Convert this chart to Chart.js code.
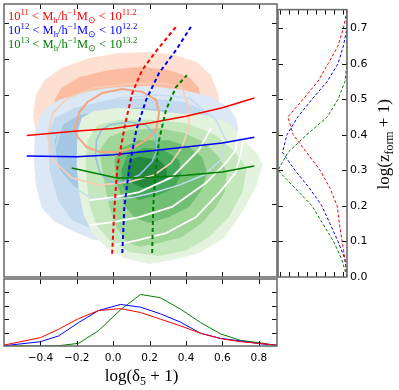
<!DOCTYPE html>
<html>
<head>
<meta charset="utf-8">
<script src="https://cdn.jsdelivr.net/npm/chart.js@4.4.1/dist/chart.umd.min.js"></script>
<style>
  html, body { margin: 0; padding: 0; background: #fff; }
  #wrap { position: relative; width: 399px; height: 390px; }
  canvas { position: absolute; left: 0; top: 0; }
</style>
</head>
<body>
<div id="wrap">
  <canvas id="mainChart" width="399" height="390"></canvas>
  <canvas id="sideChart" width="399" height="390"></canvas>
  <canvas id="bottomChart" width="399" height="390"></canvas>
</div>
<script>
// ================= DATA =================
const deltaTicks = [-0.4, -0.2, 0.0, 0.2, 0.4, 0.6, 0.8];
const zTicks = [0.0, 0.1, 0.2, 0.3, 0.4, 0.5, 0.6, 0.7];
const sideTicks = [0.5, 1.5, 2.5, 3.5, 4.5, 5.5, 6.5, 7.5];
const bottomTicks = [1, 2, 3, 4];

const massLow = ["11", "12", "13"];
const massHigh = ["11.2", "12.2", "13.2"];

// median log(z+1) vs log(delta+1) (solid)
const medDelta = [-0.475, -0.2, 0.0, 0.2, 0.4, 0.6, 0.775];
const medZRed = [0.39, 0.402, 0.409, 0.424, 0.443, 0.466, 0.493];
const medZBlue = [0.333, 0.331, 0.337, 0.347, 0.358, 0.369, 0.385];
const medDeltaGreen = [-0.228, 0.02, 0.2, 0.4, 0.6, 0.775];
const medZGreen = [0.3, 0.273, 0.274, 0.28, 0.289, 0.306];

// median log(delta+1) vs log(z+1) (dashed)
const dashZRed = [0.064, 0.193, 0.303, 0.42, 0.507, 0.57, 0.625, 0.689];
const dashDeltaRed = [-0.006, 0.007, 0.023, 0.065, 0.105, 0.159, 0.24, 0.345];
const dashZBlue = [0.066, 0.193, 0.303, 0.405, 0.488, 0.562, 0.625, 0.689];
const dashDeltaBlue = [0.05, 0.061, 0.089, 0.127, 0.181, 0.252, 0.345, 0.427];
const dashZGreen = [0.066, 0.193, 0.275, 0.377, 0.46, 0.523, 0.556];
const dashDeltaGreen = [0.214, 0.22, 0.23, 0.252, 0.29, 0.345, 0.405];

// bottom marginal
const histDelta = [-0.6, -0.4, -0.3, -0.19, -0.08, 0.04, 0.15, 0.26, 0.37, 0.48, 0.59, 0.7, 0.8, 0.9];
const histRed = [0.07, 0.62, 1.25, 2.05, 2.65, 2.79, 2.5, 2.0, 1.5, 0.95, 0.55, 0.32, 0.2, 0.05];
const histBlue = [0.02, 0.32, 0.75, 1.75, 2.65, 3.1, 2.9, 2.4, 1.78, 0.95, 0.57, 0.37, 0.18, 0.05];
const histGreen = [0, 0, 0.02, 0.2, 1.15, 2.7, 3.85, 3.6, 2.75, 1.75, 0.9, 0.42, 0.25, 0.05];

// side marginal
const zGrid = [0, 0.05, 0.1, 0.15, 0.2, 0.25, 0.3, 0.35, 0.4, 0.45, 0.5, 0.55, 0.6, 0.65, 0.7, 0.75];
const zDensRed = [0, 0.23, 0.54, 0.85, 1.1, 1.9, 3.0, 4.5, 6.0, 6.6, 4.9, 3.25, 2.1, 1.0, 0.4, 0];
const zDensBlue = [0, 0.23, 1.0, 1.9, 2.8, 4.2, 5.8, 7.2, 6.7, 5.5, 3.9, 2.2, 1.0, 0.4, 0, 0];
const zDensGreen = [0, 0.6, 1.5, 2.7, 3.9, 5.8, 7.7, 6.6, 4.5, 2.2, 1.0, 0.23, 0, 0, 0, 0];

// density contours, [log(delta+1), log(z+1)]
const redOuter = [[-0.44,0.446],[-0.425,0.501],[-0.376,0.543],[-0.283,0.576],[-0.13,0.603],[0.034,0.617],[0.198,0.62],[0.334,0.612],[0.46,0.592],[0.537,0.556],[0.58,0.501],[0.58,0.433],[0.537,0.364],[0.444,0.309],[0.252,0.267],[0.034,0.253],[-0.185,0.273],[-0.349,0.322],[-0.42,0.377]];
const redMid = [[-0.321,0.488],[-0.283,0.521],[-0.185,0.551],[-0.021,0.57],[0.143,0.579],[0.307,0.57],[0.416,0.551],[0.471,0.521],[0.487,0.474],[0.444,0.405],[0.334,0.35],[0.143,0.322],[-0.075,0.328],[-0.239,0.364],[-0.31,0.419]];
const blueOuter = [[-0.431,0.397],[-0.403,0.441],[-0.365,0.466],[-0.294,0.488],[-0.185,0.507],[-0.021,0.521],[0.198,0.526],[0.389,0.515],[0.537,0.496],[0.635,0.468],[0.679,0.433],[0.69,0.391],[0.662,0.322],[0.58,0.24],[0.444,0.171],[0.252,0.116],[0.034,0.096],[-0.103,0.102],[-0.212,0.124],[-0.321,0.152],[-0.392,0.19],[-0.425,0.253],[-0.436,0.322]];
const blueMid = [[-0.36,0.391],[-0.321,0.438],[-0.212,0.466],[-0.021,0.488],[0.198,0.493],[0.389,0.482],[0.498,0.46],[0.58,0.419],[0.608,0.364],[0.553,0.295],[0.444,0.226],[0.252,0.171],[0.034,0.135],[-0.103,0.129],[-0.228,0.157],[-0.305,0.212],[-0.349,0.295]];
const blueInner = [[-0.321,0.377],[-0.283,0.419],[-0.185,0.446],[-0.021,0.46],[0.143,0.466],[0.28,0.46],[0.362,0.438],[0.389,0.391],[0.334,0.322],[0.198,0.267],[0.034,0.226],[-0.103,0.226],[-0.212,0.248],[-0.294,0.295],[-0.321,0.336]];
const greenL1 = [[-0.196,0.397],[-0.174,0.438],[-0.103,0.457],[0.034,0.466],[0.198,0.46],[0.334,0.452],[0.509,0.446],[0.635,0.424],[0.717,0.377],[0.788,0.342],[0.821,0.309],[0.788,0.253],[0.717,0.185],[0.608,0.107],[0.471,0.066],[0.323,0.047],[0.198,0.036],[0.061,0.052],[-0.037,0.08],[-0.114,0.121],[-0.163,0.171],[-0.19,0.24],[-0.201,0.309]];
const greenL2 = [[-0.141,0.377],[-0.086,0.419],[0.034,0.433],[0.198,0.433],[0.4,0.424],[0.564,0.391],[0.673,0.342],[0.733,0.3],[0.711,0.234],[0.635,0.165],[0.526,0.11],[0.4,0.074],[0.252,0.058],[0.089,0.069],[-0.021,0.102],[-0.092,0.143],[-0.13,0.198],[-0.146,0.267],[-0.152,0.322]];
const greenL3 = [[-0.075,0.35],[-0.021,0.386],[0.089,0.405],[0.252,0.41],[0.389,0.397],[0.498,0.372],[0.58,0.331],[0.624,0.289],[0.613,0.234],[0.564,0.193],[0.487,0.149],[0.378,0.11],[0.252,0.094],[0.143,0.083],[0.078,0.096],[0.017,0.138],[-0.021,0.193],[-0.048,0.259],[-0.064,0.309]];
const greenL4 = [[0.007,0.322],[0.045,0.355],[0.143,0.377],[0.307,0.377],[0.416,0.358],[0.487,0.331],[0.515,0.289],[0.487,0.24],[0.416,0.193],[0.307,0.165],[0.198,0.149],[0.116,0.163],[0.061,0.198],[0.023,0.253]];
const greenL5 = [[0.045,0.295],[0.078,0.336],[0.17,0.355],[0.28,0.35],[0.362,0.322],[0.373,0.281],[0.334,0.245],[0.252,0.226],[0.143,0.212],[0.078,0.226],[0.05,0.259]];
const greenL6 = [[0.089,0.322],[0.143,0.331],[0.252,0.322],[0.291,0.303],[0.296,0.275],[0.252,0.256],[0.16,0.245],[0.105,0.259],[0.078,0.287]];

// contour lines
const blueBigLoop = [[-0.321,0.35],[-0.283,0.419],[-0.157,0.466],[0.034,0.493],[0.252,0.501],[0.416,0.493],[0.564,0.433],[0.619,0.377],[0.591,0.322],[0.498,0.281],[0.362,0.253],[0.236,0.234],[0.116,0.22],[-0.021,0.212],[-0.13,0.22],[-0.239,0.253],[-0.305,0.3]];
const peachLoop = [[-0.332,0.322],[-0.36,0.391],[-0.332,0.452],[-0.25,0.493],[-0.103,0.521],[0.089,0.532],[0.28,0.534],[0.378,0.521],[0.416,0.468],[0.416,0.413],[0.378,0.358],[0.318,0.314],[0.225,0.281],[0.089,0.262],[-0.075,0.253],[-0.228,0.273]];
const salmonInner = [[-0.201,0.424],[-0.185,0.455],[-0.141,0.482],[-0.059,0.507],[0.05,0.518],[0.16,0.51],[0.236,0.488],[0.252,0.452],[0.236,0.405],[0.181,0.377],[0.105,0.355],[0.017,0.344],[-0.075,0.344],[-0.146,0.358],[-0.196,0.386],[-0.212,0.413]];
const blueInnerLine = [[-0.021,0.419],[0.089,0.427],[0.181,0.419],[0.236,0.386],[0.241,0.35],[0.214,0.317],[0.143,0.281],[0.05,0.262],[-0.021,0.262],[-0.075,0.289],[-0.097,0.331],[-0.092,0.377],[-0.064,0.405]];
const whiteArc1 = [[-0.13,0.212],[0.007,0.22],[0.143,0.234],[0.323,0.275],[0.471,0.35],[0.537,0.41]];
const whiteArc2 = [[-0.13,0.143],[0.007,0.152],[0.143,0.165],[0.323,0.193],[0.509,0.259],[0.619,0.314],[0.673,0.35],[0.69,0.405]];
const whiteArc3 = [[0.007,0.088],[0.143,0.102],[0.291,0.121],[0.455,0.165],[0.58,0.231],[0.673,0.287],[0.706,0.35],[0.717,0.391]];

// ================= STYLE =================
const RED = "#ff0000", BLUE = "#0000ff", GREEN = "#008000";
const SERIF = "'Liberation Serif', serif";
Chart.defaults.font.family = "'DejaVu Sans', sans-serif";

// ================= HELPERS =================
function pts(pairs) { return pairs.map(p => ({ x: p[0], y: p[1] })); }
function zip(xs, ys) { return xs.map((x, i) => ({ x: x, y: ys[i] })); }

function fillShape(pairs, color) {
  return { data: pts(pairs), showLine: true, fill: "shape", backgroundColor: color,
           borderColor: "rgba(0,0,0,0)", borderWidth: 0.5, pointRadius: 0 };
}
function loopLine(pairs, color, width) {
  const d = pts(pairs);
  d.push(d[0]);
  return { data: d, showLine: true, fill: false, borderColor: color, borderWidth: width, pointRadius: 0 };
}
function openLine(data, color, width, dash) {
  return { data: data, showLine: true, fill: false, borderColor: color, borderWidth: width,
           borderDash: dash || [], pointRadius: 0 };
}
function stack(layers) {
  // first layer painted first (bottom)
  layers.forEach((l, i) => { l.order = layers.length - i; });
  return layers;
}

function drawParts(ctx, parts, x, y, size) {
  parts.forEach(p => {
    const small = p.mode === "sup" || p.mode === "sub";
    ctx.font = (small ? size * 0.7 : size) + "px " + SERIF;
    let dy = 0;
    if (p.mode === "sup") dy = -size * 0.4;
    if (p.mode === "sub") dy = size * 0.22;
    ctx.fillText(p.text, x, y + dy);
    x += ctx.measureText(p.text).width;
  });
  return x;
}
function partsWidth(ctx, parts, size) {
  let w = 0;
  parts.forEach(p => {
    const small = p.mode === "sup" || p.mode === "sub";
    ctx.font = (small ? size * 0.7 : size) + "px " + SERIF;
    w += ctx.measureText(p.text).width;
  });
  return w;
}
function massParts(lo, hi) {
  return [
    { text: "10" }, { text: lo, mode: "sup" },
    { text: " < M" }, { text: "h", mode: "sub" },
    { text: "/h" }, { text: "\u22121", mode: "sup" },
    { text: "M" }, { text: "\u2299", mode: "sub" },
    { text: " < 10" }, { text: hi, mode: "sup" }
  ];
}
function fmtTick(v) {
  const s = Math.abs(v).toFixed(1);
  return v < -1e-9 ? "\u2212" + s : s;
}

// inward ticks + frame
function framePlugin(cfg) {
  return {
    id: "frame",
    afterDatasetsDraw(chart) {
      const { ctx, chartArea: a, scales } = chart;
      const L = 5;
      ctx.save();
      ctx.strokeStyle = "#111";
      ctx.lineWidth = 1;
      ctx.beginPath();
      cfg.xTicks.forEach(v => {
        const p = Math.round(scales.x.getPixelForValue(v)) + 0.5;
        ctx.moveTo(p, a.top); ctx.lineTo(p, a.top + L);
        ctx.moveTo(p, a.bottom); ctx.lineTo(p, a.bottom - L);
      });
      cfg.yTicks.forEach(v => {
        const p = Math.round(scales.y.getPixelForValue(v)) + 0.5;
        ctx.moveTo(a.left, p); ctx.lineTo(a.left + L, p);
        ctx.moveTo(a.right, p); ctx.lineTo(a.right - L, p);
      });
      ctx.stroke();
      ctx.strokeStyle = "#666";
      ctx.lineWidth = 1.5;
      ctx.strokeRect(a.left, a.top, a.right - a.left, a.bottom - a.top);
      ctx.restore();
    }
  };
}

const baseOpts = {
  responsive: false,
  animation: false,
  devicePixelRatio: 1,
  events: [],
  plugins: { legend: { display: false }, tooltip: { enabled: false } },
  elements: { point: { radius: 0 }, line: { tension: 0 } }
};

// ================= MAIN PANEL =================
const mainLayers = stack([
  fillShape(redOuter, "#fde0d2"),
  fillShape(redMid, "#fbbca2"),
  fillShape(blueOuter, "#dce8f5"),
  fillShape(blueMid, "#c3d9ee"),
  fillShape(blueInner, "#a4c8e3"),
  fillShape(greenL1, "#e3f3de"),
  fillShape(greenL2, "#c5e7bd"),
  fillShape(greenL3, "#9fd597"),
  fillShape(greenL4, "#70bf73"),
  fillShape(greenL5, "#45a95b"),
  fillShape(greenL6, "#24883f"),
  loopLine(blueBigLoop, "#c4dcf0", 1.5),
  loopLine(peachLoop, "#fbcdb5", 1.6),
  loopLine(salmonInner, "#f4a582", 2),
  loopLine(blueInnerLine, "#92c0e0", 1.6),
  openLine(pts(whiteArc1), "#ffffff", 1.8),
  openLine(pts(whiteArc2), "#ffffff", 1.8),
  openLine(pts(whiteArc3), "#ffffff", 1.8),
  openLine(zip(medDelta, medZRed), RED, 1.5),
  openLine(zip(medDelta, medZBlue), BLUE, 1.5),
  openLine(zip(medDeltaGreen, medZGreen), GREEN, 1.5),
  openLine(zip(dashDeltaRed, dashZRed), RED, 2, [4, 3]),
  openLine(zip(dashDeltaBlue, dashZBlue), BLUE, 2, [4, 3]),
  openLine(zip(dashDeltaGreen, dashZGreen), GREEN, 2, [4, 3])
]);

const legendPlugin = {
  id: "massLegend",
  afterDraw(chart) {
    const ctx = chart.ctx;
    const colors = [RED, BLUE, GREEN];
    ctx.save();
    ctx.textBaseline = "alphabetic";
    massLow.forEach((lo, i) => {
      ctx.fillStyle = colors[i];
      drawParts(ctx, massParts(lo, massHigh[i]), 8, 20 + i * 14, 12.5);
    });
    ctx.restore();
  }
};

new Chart(document.getElementById("mainChart"), {
  type: "scatter",
  data: { datasets: mainLayers },
  options: {
    ...baseOpts,
    layout: { padding: { left: 4, top: 4, right: 122, bottom: 113 }, autoPadding: false },
    scales: {
      x: { display: false, min: -0.6, max: 0.9 },
      y: { display: false, min: 0, max: 0.752 }
    }
  },
  plugins: [framePlugin({ xTicks: deltaTicks, yTicks: zTicks.slice(1) }), legendPlugin]
});

// ================= SIDE PANEL =================
const yTitlePlugin = {
  id: "yTitle",
  afterDraw(chart) {
    const ctx = chart.ctx;
    const a = chart.chartArea;
    const parts = [{ text: "log(z" }, { text: "form", mode: "sub" }, { text: " + 1)" }];
    const size = 17;
    const w = partsWidth(ctx, parts, size);
    ctx.save();
    ctx.translate(389, (a.top + a.bottom) / 2 + 1);
    ctx.rotate(-Math.PI / 2);
    ctx.fillStyle = "#000";
    drawParts(ctx, parts, -w / 2, 0, size);
    ctx.restore();
  }
};

new Chart(document.getElementById("sideChart"), {
  type: "scatter",
  data: {
    datasets: [
      openLine(zip(zDensRed, zGrid), RED, 1, [3, 2]),
      openLine(zip(zDensBlue, zGrid), BLUE, 1, [3, 2]),
      openLine(zip(zDensGreen, zGrid), GREEN, 1, [3, 2])
    ]
  },
  options: {
    ...baseOpts,
    layout: { padding: { left: 278, top: 4, right: 0, bottom: 113 }, autoPadding: false },
    scales: {
      x: { display: false, reverse: true, min: 0, max: 7.7 },
      y: {
        position: "right", min: 0, max: 0.752,
        grid: { display: false, drawTicks: false },
        border: { display: false },
        afterBuildTicks: s => { s.ticks = zTicks.map(v => ({ value: v })); },
        afterFit: s => { s.width = 52; },
        ticks: { autoSkip: false, padding: 3, color: "#000", font: { size: 11 }, callback: v => fmtTick(v) }
      }
    }
  },
  plugins: [framePlugin({ xTicks: sideTicks, yTicks: zTicks.slice(1) }), yTitlePlugin]
});

// ================= BOTTOM PANEL =================
const xTitlePlugin = {
  id: "xTitle",
  afterDraw(chart) {
    const ctx = chart.ctx;
    const a = chart.chartArea;
    const parts = [{ text: "log(\u03b4" }, { text: "5", mode: "sub" }, { text: " + 1)" }];
    const size = 17;
    const w = partsWidth(ctx, parts, size);
    ctx.save();
    ctx.fillStyle = "#000";
    drawParts(ctx, parts, (a.left + a.right) / 2 + 1 - w / 2, 381, size);
    ctx.restore();
  }
};

new Chart(document.getElementById("bottomChart"), {
  type: "scatter",
  data: {
    datasets: [
      openLine(zip(histDelta, histRed), RED, 1),
      openLine(zip(histDelta, histBlue), BLUE, 1),
      openLine(zip(histDelta, histGreen), GREEN, 1)
    ]
  },
  options: {
    ...baseOpts,
    layout: { padding: { left: 4, top: 279, right: 122, bottom: 20 }, autoPadding: false },
    scales: {
      x: {
        min: -0.6, max: 0.9,
        grid: { display: false, drawTicks: false },
        border: { display: false },
        afterBuildTicks: s => { s.ticks = deltaTicks.map(v => ({ value: v })); },
        afterFit: s => { s.height = 24; },
        ticks: { autoSkip: false, maxRotation: 0, padding: 6, color: "#000", font: { size: 10.5 }, callback: v => fmtTick(v) }
      },
      y: { display: false, min: 0, max: 5 }
    }
  },
  plugins: [framePlugin({ xTicks: deltaTicks, yTicks: bottomTicks }), xTitlePlugin]
});
</script>
</body>
</html>
